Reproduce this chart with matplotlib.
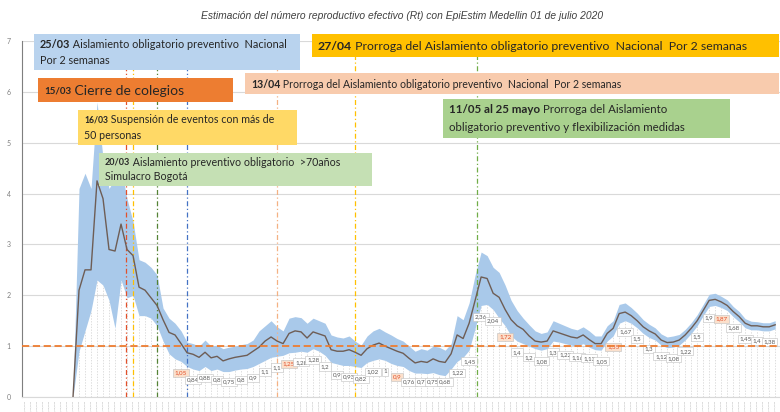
import matplotlib
matplotlib.use('Agg')
import matplotlib.pyplot as plt
import matplotlib.patches as patches
import numpy as np
import pandas as pd

plt.rcParams['font.family'] = ['Lato', 'DejaVu Sans']

# days from 27/02/2020 to 01/07/2020
dates = pd.date_range('2020-02-27', '2020-07-01', freq='D')
first_day = 8

rt_mean = [0, 2.1, 2.5, 2.5, 4.25, 3.9, 2.9, 2.87, 3.4, 2.9, 2.78, 2.16, 2.1, 1.95, 1.8, 1.52,
           1.27, 1.22, 1.05, 0.87, 0.84, 0.78, 0.88, 0.77, 0.8, 0.71, 0.75, 0.78, 0.8, 0.82,
           0.9, 0.98, 1.1, 1.18, 1.1, 1.05, 1.25, 1.3, 1.28, 1.16, 1.28, 1.24, 1.2, 0.93, 0.9,
           0.9, 0.93, 0.88, 0.82, 0.95, 1.02, 1.06, 1.0, 0.95, 0.9, 0.86, 0.76, 0.67, 0.7, 0.68,
           0.75, 0.7, 0.68, 0.85, 1.22, 1.15, 1.45, 1.9, 2.36, 2.33, 2.04, 1.96, 1.72, 1.52, 1.4,
           1.33, 1.2, 1.1, 1.08, 1.1, 1.3, 1.26, 1.22, 1.18, 1.16, 1.22, 1.13, 1.05, 1.05, 1.25,
           1.35, 1.64, 1.67, 1.6, 1.5, 1.38, 1.3, 1.24, 1.12, 1.07, 1.08, 1.12, 1.22, 1.35, 1.5,
           1.7, 1.9, 1.92, 1.87, 1.8, 1.68, 1.58, 1.45, 1.4, 1.4, 1.38, 1.38, 1.42]
rt_upper = [0, 4.1, 4.4, 4.1, 5.8, 4.7, 4.1, 4.3, 4.5, 3.9, 3.45, 2.7, 2.65, 2.55, 2.4, 1.75,
            1.55, 1.45, 1.3, 1.08, 1.05, 1.0, 1.12, 1.0, 1.02, 0.95, 0.98, 1.0, 1.03, 1.05,
            1.12, 1.3, 1.4, 1.5, 1.38, 1.3, 1.55, 1.58, 1.56, 1.45, 1.55, 1.5, 1.45, 1.22, 1.18,
            1.16, 1.2, 1.1, 1.02, 1.2, 1.3, 1.35, 1.28, 1.22, 1.15, 1.1, 1.0, 0.9, 0.95, 0.92,
            1.0, 0.98, 0.92, 1.05, 1.6, 1.52, 1.85, 2.4, 2.85, 2.78, 2.55, 2.45, 2.2, 1.9, 1.7,
            1.55, 1.42, 1.3, 1.25, 1.28, 1.5, 1.45, 1.4, 1.35, 1.32, 1.38, 1.3, 1.2, 1.2, 1.4,
            1.5, 1.82, 1.85, 1.76, 1.65, 1.52, 1.43, 1.36, 1.24, 1.18, 1.2, 1.23, 1.33, 1.46, 1.62,
            1.82, 2.02, 2.04, 1.98, 1.91, 1.78, 1.68, 1.54, 1.49, 1.48, 1.46, 1.46, 1.5]
rt_lower = [0, 0.9, 1.3, 1.7, 2.3, 2.2, 1.9, 1.35, 2.3, 1.95, 2.0, 1.6, 1.6, 1.55, 1.4, 1.1,
            0.85, 0.75, 0.7, 0.6, 0.55, 0.52, 0.6, 0.52, 0.55, 0.5, 0.5, 0.53, 0.55, 0.56,
            0.6, 0.66, 0.72, 0.78, 0.8, 0.82, 0.87, 0.88, 0.9, 0.88, 0.95, 0.9, 0.82, 0.68, 0.65,
            0.62, 0.62, 0.6, 0.58, 0.68, 0.72, 0.75, 0.72, 0.66, 0.62, 0.6, 0.52, 0.47, 0.47, 0.46,
            0.48, 0.44, 0.42, 0.55, 0.7, 0.78, 0.92, 1.35, 1.8, 1.82, 1.72, 1.55, 1.4, 1.2, 1.1,
            1.05, 1.0, 0.95, 0.92, 0.95, 1.1, 1.08, 1.05, 1.02, 1.0, 1.05, 0.98, 0.93, 0.92, 1.1,
            1.2, 1.45, 1.5, 1.45, 1.36, 1.25, 1.17, 1.12, 1.02, 0.97, 0.98, 1.02, 1.12, 1.25, 1.4,
            1.6, 1.78, 1.8, 1.76, 1.7, 1.58, 1.48, 1.36, 1.32, 1.32, 1.3, 1.3, 1.34]

# event lines: position in days (as drawn in the original) and colour
event_days = [16.8, 18.0, 22.0, 27.0, 42.0, 55.0, 75.3]
event_colors = ['#e2502a', '#ffc000', '#548235', '#4472c4', '#f4b183', '#ffc000', '#70ad47']

# annotation boxes: (left, top, right, bottom) in pixels, colour, date, text, sizes
notes = [
    ((34, 34, 300, 70), '#b9d3ee', '25/03', ' Aislamiento obligatorio preventivo  Nacional\nPor 2 semanas', 7.8, 7.8),
    ((312, 34, 779, 57), '#ffc000', '27/04', ' Prorroga del Aislamiento obligatorio preventivo  Nacional  Por 2 semanas', 8.8, 8.8),
    ((245, 73, 779, 94), '#f8cbad', '13/04', ' Prorroga del Aislamiento obligatorio preventivo  Nacional  Por 2 semanas', 7.6, 7.6),
    ((38, 78, 233, 102), '#ed7d31', '15/03', ' Cierre de colegios', 7.0, 10.0),
    ((78, 110, 297, 145), '#ffd966', '16/03', ' Suspensión de eventos con más de\n50 personas', 6.2, 7.7),
    ((99, 153, 372, 186), '#c5e0b4', '20/03', ' Aislamiento preventivo obligatorio  >70años\nSimulacro Bogotá', 6.5, 7.7),
    ((443, 99, 730, 138), '#a9d18e', '11/05 al 25 mayo', ' Prorroga del Aislamiento\nobligatorio preventivo y flexibilización medidas', 8.3, 8.3),
]

W, H = 780, 412
fig = plt.figure(figsize=(7.8, 4.12), dpi=100)
ax = fig.add_axes([22 / W, 1 - 397 / H, 758 / W, 356 / H])

x = np.arange(first_day, first_day + len(rt_mean))
lower = np.array(rt_lower)
ax.fill_between(x, rt_lower, rt_upper, color='#a9c9ea', lw=0, zorder=2)
ax.vlines(x, 0, lower, colors='#d0d0d0', linestyles=(0, (2, 2)), lw=0.5, zorder=1)
ax.plot(x, rt_mean, color='#6e5d55', lw=1.0, zorder=4)
ax.axhline(1, color='#ed7d31', lw=1.3, ls=(0, (4, 2)), zorder=5)
for d, c in zip(event_days, event_colors):
    ax.axvline(d, color=c, lw=0.9, ls=(0, (4, 2, 1, 2)), zorder=3)

# data labels under the band
for i in range(18, len(rt_mean), 2):
    v = rt_mean[i]
    lab = ('%.2f' % v).rstrip('0').rstrip('.').replace('.', ',')
    hot = i % 9 == 0
    ax.text(x[i], max(rt_lower[i] - 0.22, 0.3), lab, fontsize=4.5, ha='center', va='center',
            color='#e2502a' if hot else '#595959', zorder=3,
            bbox=dict(boxstyle='square,pad=0.25', fc='#fbe0cc' if hot else 'white', ec='#bfbfbf', lw=0.4))

ax.set_xlim(-0.5, 125.8)
ax.set_ylim(0, 7)
ax.set_yticks(range(8))
ax.tick_params(axis='y', labelsize=5, colors='#7f7f7f', length=0, pad=8)
ax.set_xticks(np.arange(len(dates)))
ax.set_xticklabels([d.strftime('%d/%m/%Y') for d in dates], rotation=90, fontsize=1.6, color='#a6a6a6')
ax.tick_params(axis='x', length=0, pad=2)
ax.grid(axis='y', color='#d9d9d9', lw=0.8)
ax.set_axisbelow(True)
for s in ['top', 'right']:
    ax.spines[s].set_visible(False)
ax.spines['left'].set_color('#7f7f7f')
ax.spines['bottom'].set_color('#d9d9d9')

fig.text(402 / W, 1 - 16 / H, 'Estimación del número reproductivo efectivo (Rt) con EpiEstim Medellin 01 de julio 2020',
         ha='center', va='center', fontsize=7.4, style='italic', color='#404040', family='Liberation Sans')

renderer = fig.canvas.get_renderer()
for (l, t, r, b), fc, date, txt, s1, s2 in notes:
    fig.patches.append(patches.Rectangle((l / W, 1 - b / H), (r - l) / W, (b - t) / H,
                                         transform=fig.transFigure, fc=fc, ec='none', zorder=6))
    lines = txt.split('\n')
    nl = len(lines)
    lh = (b - t) / nl
    y0 = t + lh / 2 + 1
    td = fig.text((l + 6) / W, 1 - y0 / H, date, fontsize=s1, weight='bold', color='#262626',
                  ha='left', va='center', zorder=7)
    bb = td.get_window_extent(renderer)
    fig.text(bb.x1 / W, 1 - y0 / H, lines[0], fontsize=s2, color='#262626', ha='left', va='center', zorder=7)
    for k, ln in enumerate(lines[1:], 1):
        fig.text((l + 6) / W, 1 - (y0 + k * lh - 2) / H, ln, fontsize=s2, color='#262626',
                 ha='left', va='center', zorder=7)

fig.savefig('out.png', dpi=100)
